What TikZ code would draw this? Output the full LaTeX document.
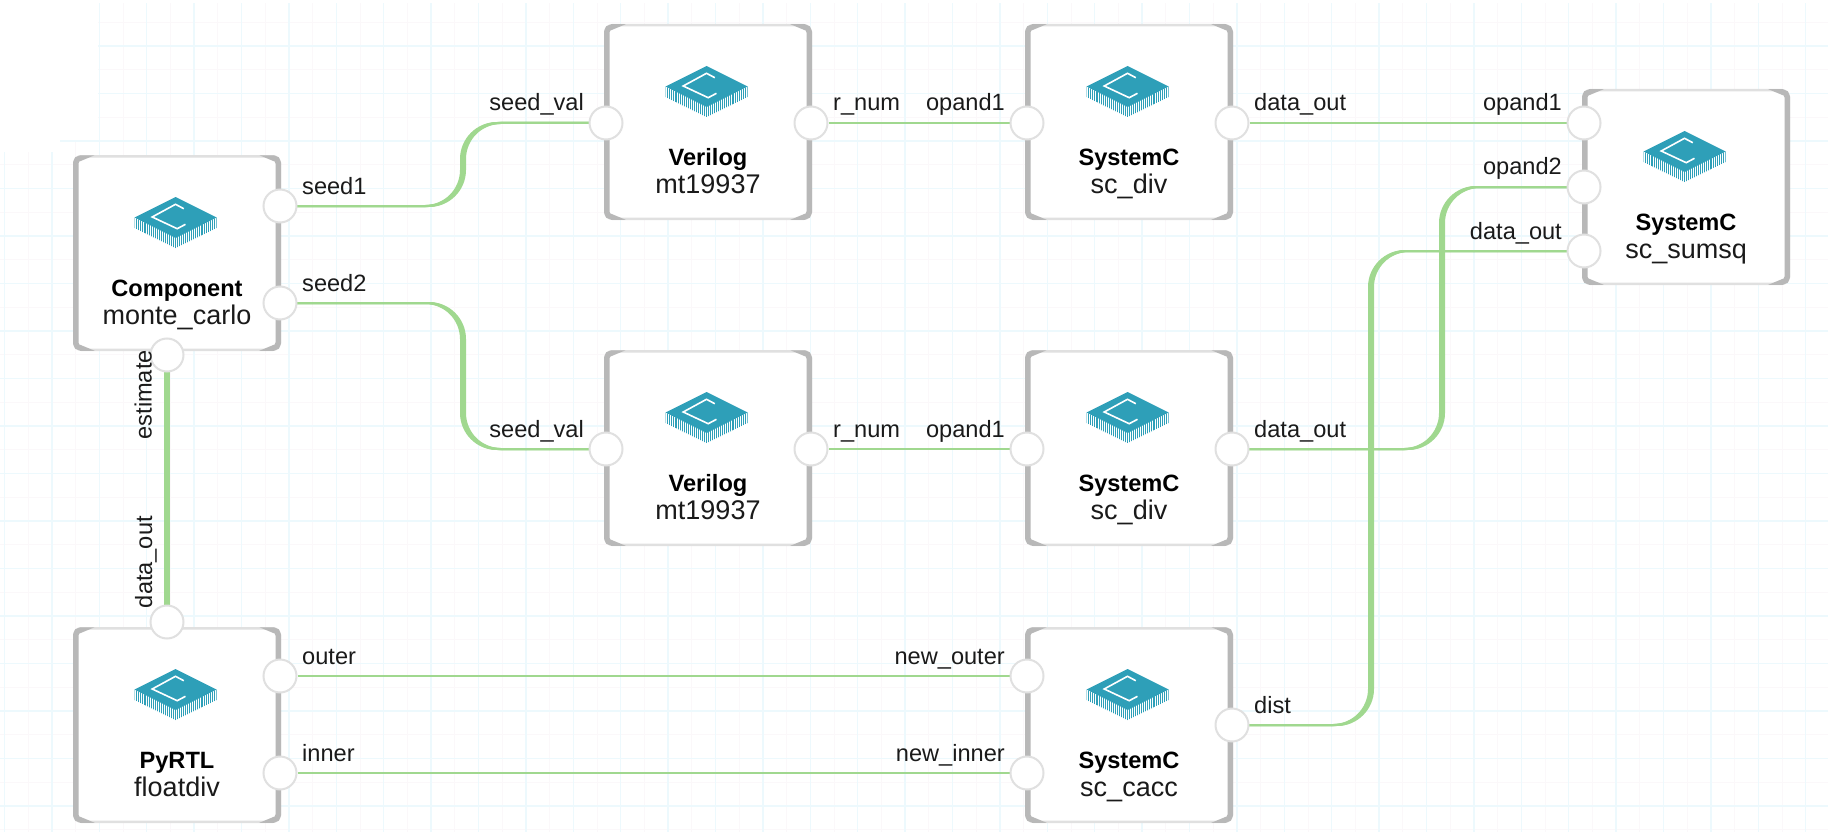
\documentclass[tikz,border=0pt]{standalone}
\usepackage{fontspec}
\setmainfont{Liberation Sans}
\usetikzlibrary{calc}
\pgfdeclarelayer{below}
\pgfsetlayers{below,main}
\definecolor{gridmaj}{HTML}{EDF9FD}
\definecolor{gridmin}{HTML}{FBF8FA}
\definecolor{wirecol}{HTML}{A0D88F}
\definecolor{barcol}{HTML}{B8B8B8}
\definecolor{edgecol}{HTML}{E0E0E0}
\definecolor{chiptop}{HTML}{2E9FB8}
\definecolor{txt}{HTML}{1A1A1A}
\tikzset{
  compbox/.style={draw=edgecol,line width=2.5pt,fill=white,rounded corners=7pt,minimum width=205.5pt,minimum height=193.5pt,inner sep=0pt},
  bar/.style={draw=barcol,line width=5.5pt,rounded corners=5pt},
  port/.style={circle,draw=edgecol,line width=2pt,fill=white,minimum size=33pt,inner sep=0pt},
  lab/.style={inner sep=0pt,text=txt,font=\fontsize{23.6}{26}\selectfont},
  kindlab/.style={inner sep=0pt,text=black,font=\fontsize{23.6}{26}\selectfont\bfseries},
  instlab/.style={inner sep=0pt,text=txt,font=\fontsize{27}{30}\selectfont},
  wire/.style={draw=wirecol,line width=2.6pt},
  thinwire/.style={draw=wirecol,line width=2pt},
  chip/.pic={
    \fill[chiptop] (-41,20.5)--(0,40)--(41,20.5)--(41,31)--(0,51)--(-41,31)--cycle;
    \foreach \t in {0.03,0.08,...,1.0} {
      \draw[white,line width=0.9pt] ($(-41,20.5)!\t!(0,40)$) -- ++(0,11);
      \draw[white,line width=0.9pt] ($(41,20.5)!\t!(0,40)$) -- ++(0,11);
    }
    \fill[chiptop] (0,0)--(41,20.5)--(0,41)--(-41,20.5)--cycle;
    \draw[white,line width=1.6pt] (8.3,11.7)--(0,7.3)--(-23.3,20)--(1.7,31.7)--(10,27.3);
  }
}
\newcommand\comp[5]{% name, left, top, kind, inst
  \node[compbox] (#1) at (#2+104,#3+98) {};
  \draw[bar] (#2+7,#3+3) -- (#2+2.75,#3+3) -- (#2+2.75,#3+193) -- (#2+7,#3+193);
  \draw[bar] (#2+201,#3+3) -- (#2+205.25,#3+3) -- (#2+205.25,#3+193) -- (#2+201,#3+193);
  \pic at (#2+102.5,#3+42) {chip};
  \node[kindlab,anchor=base] (#1k) at (#2+104,#3+141.5) {#4};
  \node[instlab,anchor=base] (#1i) at (#2+104,#3+169.5) {#5};
}
\newcommand\portE[4]{% label to the right
  \node[port] (#1) at (#2,#3) {};
  \node[lab,anchor=base west] (#1l) at (#2+22,#3-12) {#4};
}
\newcommand\portW[4]{% label to the left
  \node[port] (#1) at (#2,#3) {};
  \node[lab,anchor=base east] (#1l) at (#2-22,#3-12) {#4};
}
\newcommand\ribbon[1]{%
  \foreach \s in {-2,-1,0,1,2} {\draw[thinwire,transform canvas={xshift=\s pt}] #1;}
}
\begin{document}
\begin{tikzpicture}[x=1pt,y=-1pt]
\path[use as bounding box] (0,0) rectangle (1828,832);
\begin{pgfonlayer}{below}
  \foreach \k in {0,...,38} {
    \draw[gridmin,line width=1pt] (4.5+47.4*\k+23.7,3) -- (4.5+47.4*\k+23.7,832);
  }
  \foreach \k in {0,...,17} {
    \draw[gridmin,line width=1pt] (0,46+47.5*\k-23.75) -- (1828,46+47.5*\k-23.75);
  }
  \foreach \k in {0,...,38} {
    \draw[gridmaj,line width=1.5pt] (4.5+47.4*\k,3) -- (4.5+47.4*\k,832);
  }
  \foreach \k in {0,...,16} {
    \draw[gridmaj,line width=1.5pt] (0,46+47.5*\k) -- (1828,46+47.5*\k);
  }
  \fill[white] (0,0) rectangle (98,140);
  \fill[white] (0,140) rectangle (60,152);
\end{pgfonlayer}

\comp{mc}{73}{155}{Component}{monte\_carlo}
\comp{mta}{604}{24}{Verilog}{mt19937}
\comp{diva}{1025}{24}{SystemC}{sc\_div}
\comp{sum}{1582}{89}{SystemC}{sc\_sumsq}
\comp{mtb}{604}{350}{Verilog}{mt19937}
\comp{divb}{1025}{350}{SystemC}{sc\_div}
\comp{fd}{73}{627}{PyRTL}{floatdiv}
\comp{cacc}{1025}{627}{SystemC}{sc\_cacc}

\portE{mcsa}{280}{206}{seed1}
\portE{mcsb}{280}{303}{seed2}
\node[port] (mces) at (167,355) {};
\node[lab,anchor=base east,rotate=90] (mcesl) at (151.5,350) {estimate};

\portW{mtain}{606}{123}{seed\_val}
\portE{mtaout}{811}{123}{r\_num}
\portW{divain}{1027}{123}{opand1}
\portE{divaout}{1232}{123}{data\_out}

\portW{sumia}{1584}{123}{opand1}
\portW{sumib}{1584}{187}{opand2}
\portW{sumo}{1584}{251}{data\_out}

\portW{mtbin}{606}{449}{seed\_val}
\portE{mtbout}{811}{449}{r\_num}
\portW{divbin}{1027}{449}{opand1}
\portE{divbout}{1232}{449}{data\_out}

\node[port] (fdo) at (167,622) {};
\node[lab,anchor=base east,rotate=90] (fdol) at (152,516) {data\_out};
\portE{fdou}{280}{676}{outer}
\portE{fdin}{280}{773}{inner}

\portW{cacou}{1027}{676}{new\_outer}
\portW{cacin}{1027}{773}{new\_inner}
\portE{cacd}{1232}{725}{dist}

\coordinate (va) at (463,0);
\coordinate (vb) at (1442,0);
\coordinate (vc) at (1371,0);

\begin{pgfonlayer}{below}
  \draw[wire] (mtaout) -- (divain);
  \draw[wire] (divaout) -- (sumia);
  \draw[wire] (mtbout) -- (divbin);
  \draw[wire] (fdou) -- (cacou);
  \draw[wire] (fdin) -- (cacin);
  \ribbon{[rounded corners=36pt] (mcsa.center) -- (mcsa.center -| va) -- (va |- mtain.center) -- (mtain.center)}
  \ribbon{[rounded corners=36pt] (mcsb.center) -- (mcsb.center -| va) -- (va |- mtbin.center) -- (mtbin.center)}
  \ribbon{[rounded corners=36pt] (divbout.center) -- (divbout.center -| vb) -- (vb |- sumib.center) -- (sumib.center)}
  \ribbon{[rounded corners=36pt] (cacd.center) -- (cacd.center -| vc) -- (vc |- sumo.center) -- (sumo.center)}
  \ribbon{(mces.center) -- (fdo.center)}
\end{pgfonlayer}
\end{tikzpicture}
\end{document}
